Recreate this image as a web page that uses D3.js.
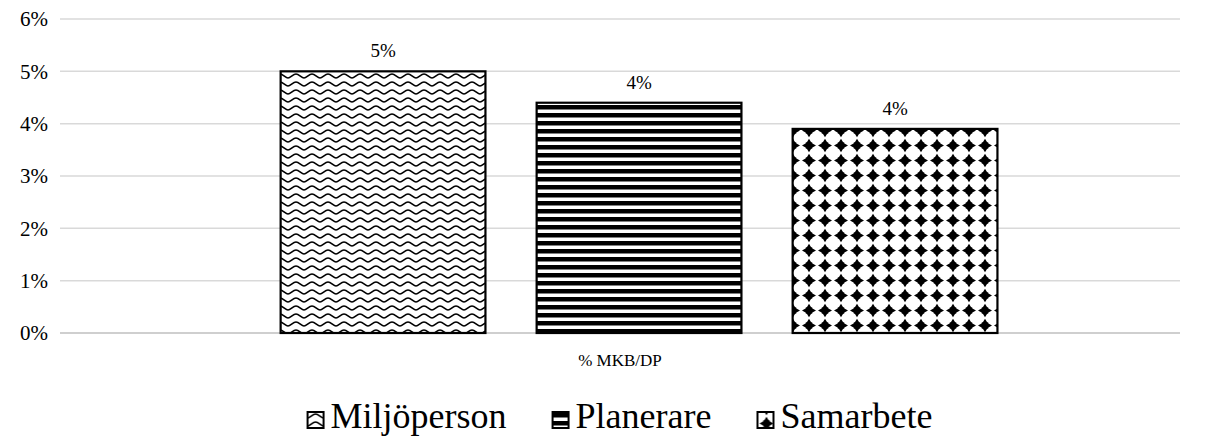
<!DOCTYPE html>
<html>
<head>
<meta charset="utf-8">
<script src="https://cdn.jsdelivr.net/npm/d3@7"></script>
<style>
  html, body { margin: 0; padding: 0; background: #fff; }
  svg { display: block; }
  svg text { font-family: "Liberation Serif", "Times New Roman", Times, serif !important; }
</style>
</head>
<body>
<svg id="chart" width="1208" height="438"></svg>
<script>
// Share of MKB/DP per role
const category = "% MKB/DP";
const seriesNames = ["Miljöperson", "Planerare", "Samarbete"];
const seriesValues = [0.050, 0.044, 0.039];
const tickValues = [0, 0.01, 0.02, 0.03, 0.04, 0.05, 0.06];
const patternIds = ["pat-wave", "pat-stripe", "pat-diamond"];

const serif = '"Liberation Serif", "Times New Roman", Times, serif';
const svg = d3.select("#chart");
const plot = { left: 60, right: 1180, top: 19, bottom: 333 };

const y = d3.scaleLinear().domain([0, 0.06]).range([plot.bottom, plot.top]);
const x0 = d3.scaleBand().domain([category]).range([plot.left, plot.right]);
const x1 = d3.scaleBand().domain(seriesNames)
  .range([x0(category) + x0.bandwidth() * 0.197, x0(category) + x0.bandwidth() * 0.837])
  .paddingInner(0.2);

// Fill patterns
const defs = svg.append("defs");

const wave = defs.append("pattern").attr("id", "pat-wave")
  .attr("patternUnits", "userSpaceOnUse").attr("width", 16).attr("height", 8);
wave.append("rect").attr("width", 16).attr("height", 8).attr("fill", "#fff");
wave.append("path")
  .attr("d", "M0,6 C2.5,6 5,2 8,2 C11,2 13.5,6 16,6")
  .attr("fill", "none").attr("stroke", "#000").attr("stroke-width", 1.6);

const stripe = defs.append("pattern").attr("id", "pat-stripe")
  .attr("patternUnits", "userSpaceOnUse").attr("width", 8).attr("height", 8)
  .attr("y", 1);
stripe.append("rect").attr("width", 8).attr("height", 8).attr("fill", "#fff");
stripe.append("rect").attr("y", 0).attr("width", 8).attr("height", 4.5).attr("fill", "#000");

const diamond = defs.append("pattern").attr("id", "pat-diamond")
  .attr("patternUnits", "userSpaceOnUse").attr("width", 16).attr("height", 15)
  .attr("x", 1).attr("y", 3);
diamond.append("rect").attr("width", 16).attr("height", 15).attr("fill", "#fff");
diamond.append("path")
  .attr("d", "M8,0.8 L10.6,4.9 L15,7.5 L10.6,10.1 L8,14.2 L5.4,10.1 L1,7.5 L5.4,4.9 Z")
  .attr("fill", "#000");
diamond.append("rect").attr("x", 4.8).attr("y", 4.3).attr("width", 6.4).attr("height", 6.4).attr("fill", "#000");

// Gridlines
svg.append("g").selectAll("line").data(tickValues).join("line")
  .attr("x1", plot.left).attr("x2", plot.right)
  .attr("y1", d => y(d)).attr("y2", d => y(d))
  .attr("stroke", d => d === 0 ? "#bfbfbf" : "#d9d9d9").attr("stroke-width", 1.5);

// Y axis labels
const yAxis = d3.axisLeft(y).tickValues(tickValues).tickFormat(d3.format(".0%")).tickSize(0).tickPadding(0);
const yg = svg.append("g").attr("transform", `translate(${plot.left - 12},0)`).call(yAxis);
yg.select(".domain").remove();
yg.attr("font-family", serif).attr("font-size", 21);
yg.selectAll("text").style("font-family", serif).attr("fill", "#000");

// Bars
svg.append("g").selectAll("rect").data(seriesNames).join("rect")
  .attr("x", d => x1(d))
  .attr("y", (d, i) => y(seriesValues[i]))
  .attr("width", x1.bandwidth())
  .attr("height", (d, i) => y(0) - y(seriesValues[i]))
  .attr("fill", (d, i) => `url(#${patternIds[i]})`)
  .attr("stroke", "#000").attr("stroke-width", 2.2);

// Value labels
svg.append("g").selectAll("text").data(seriesNames).join("text")
  .attr("x", d => x1(d) + x1.bandwidth() / 2)
  .attr("y", (d, i) => y(seriesValues[i]) - 14)
  .attr("text-anchor", "middle")
  .style("font-family", serif)
  .attr("font-size", 19).attr("fill", "#000")
  .text((d, i) => d3.format(".0%")(seriesValues[i]));

// Category label
svg.append("text")
  .attr("x", x0(category) + x0.bandwidth() / 2)
  .attr("y", 366)
  .attr("text-anchor", "middle")
  .style("font-family", serif)
  .attr("font-size", 17).attr("fill", "#000")
  .text(category);

// Legend
const legendFont = 36;
const legend = svg.append("g");
const items = legend.selectAll("g").data(seriesNames).join("g");
items.append("rect")
  .attr("x", 0).attr("y", -16).attr("width", 16).attr("height", 16)
  .attr("fill", (d, i) => `url(#${patternIds[i]})`)
  .attr("stroke", "#000").attr("stroke-width", 2);
items.append("text")
  .attr("x", 23).attr("y", 0)
  .style("font-family", serif)
  .attr("font-size", legendFont).attr("fill", "#000")
  .text(d => d);
// lay out items horizontally, centred under the plot
const widths = [];
items.each(function () { widths.push(this.getBBox().width); });
const gap = 46;
const total = d3.sum(widths) + gap * (widths.length - 1);
let cx = (plot.left + plot.right) / 2 - total / 2;
items.attr("transform", (d, i) => {
  const t = `translate(${cx},428)`;
  cx += widths[i] + gap;
  return t;
});
</script>
</body>
</html>
